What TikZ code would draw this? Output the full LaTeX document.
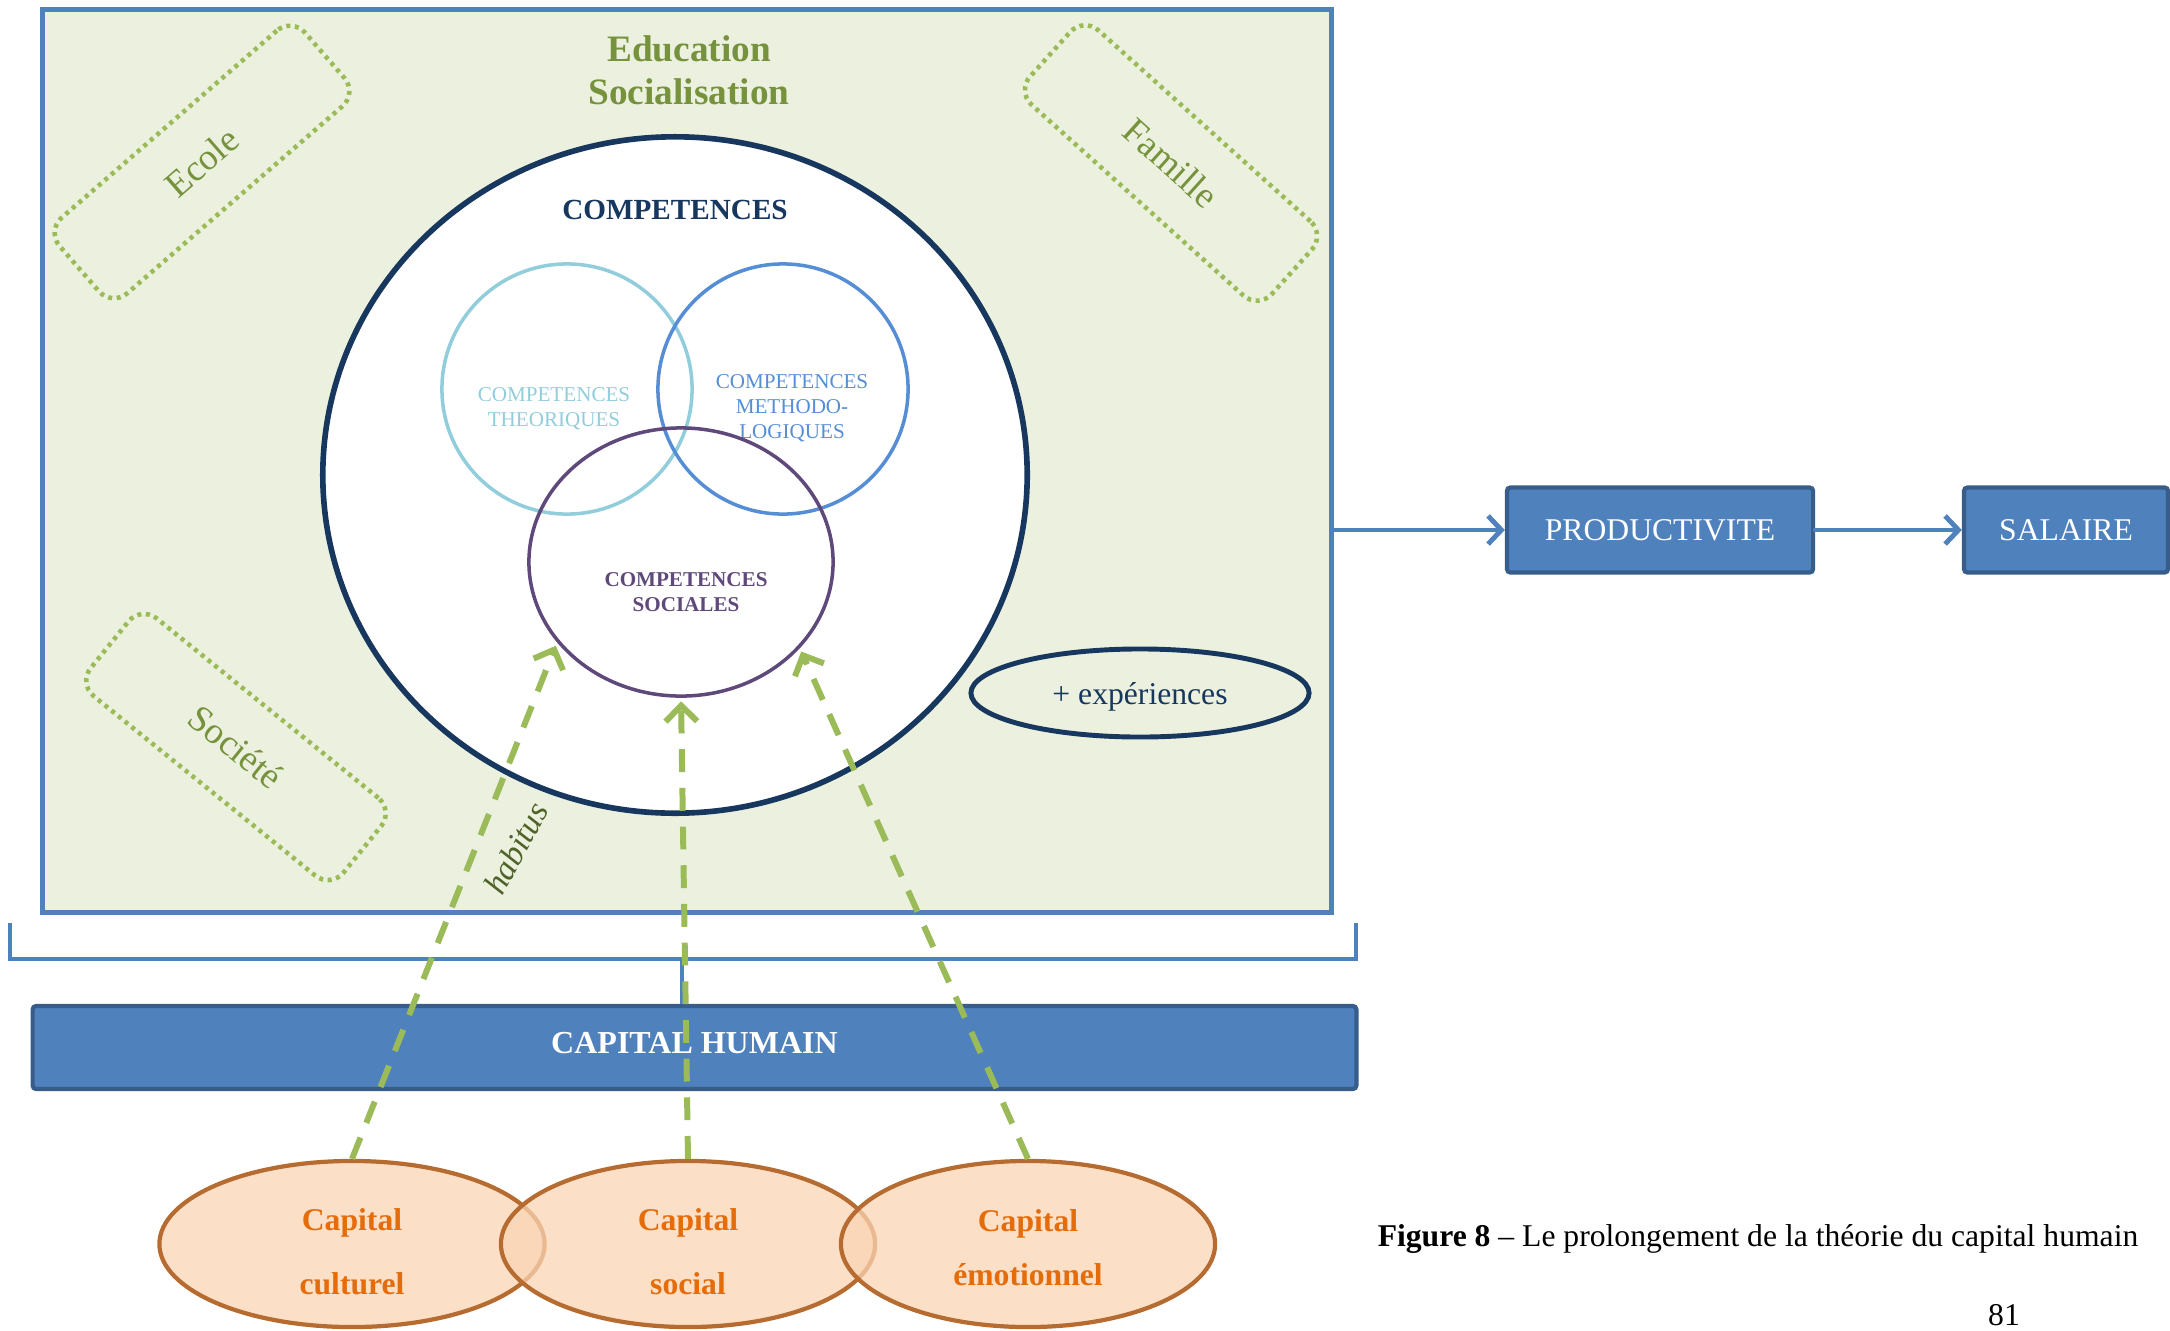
\documentclass[tikz,border=0pt]{standalone}
\usepackage{fontspec}
\setmainfont{Liberation Serif}
\usepackage{xcolor}
\usepackage{tikz}
\definecolor{framegreen}{RGB}{235, 241, 222}
\definecolor{accentblue}{RGB}{79, 129, 189}
\definecolor{darkblue}{RGB}{56, 93, 138}
\definecolor{navy}{RGB}{23, 55, 94}
\definecolor{olivetext}{RGB}{118, 146, 60}
\definecolor{habitusgreen}{RGB}{79, 98, 40}
\definecolor{softgreen}{RGB}{155, 187, 89}
\definecolor{theocyan}{RGB}{146, 205, 220}
\definecolor{methoblue}{RGB}{85, 142, 213}
\definecolor{socialpurple}{RGB}{95, 73, 122}
\definecolor{capfill}{RGB}{251, 212, 180}
\definecolor{capborder}{RGB}{182, 108, 48}
\definecolor{captext}{RGB}{228, 108, 10}
\usetikzlibrary{shapes, arrows.meta, positioning, calc}

\begin{document}
\begin{tikzpicture}[
    x=0.01cm, y=-0.01cm,
    dotbox/.style={rectangle, draw=softgreen, line width=1.3pt, dash pattern=on 1.15pt off 1.3pt, rounded corners=0.2cm, minimum width=3.25cm, minimum height=1cm, text=olivetext, font=\fontsize{10.5}{12}\selectfont},
    venn/.style={circle, line width=1pt, minimum size=2.5cm, inner sep=0pt},
    venntext/.style={align=center, font=\fontsize{6}{7.1}\selectfont},
    bluebox/.style={rectangle, draw=darkblue, fill=accentblue, line width=1.2pt, rounded corners=1pt, minimum height=0.85cm, text=white, font=\fontsize{9}{11}\selectfont},
    capital/.style={ellipse, draw=capborder, fill=capfill, fill opacity=0.75, line width=1.2pt, minimum width=3.74cm, minimum height=1.66cm, inner sep=0pt},
    capitaltext/.style={align=center, text=captext, font=\fontsize{9}{18}\selectfont\bfseries},
    arrow/.style={-{Straight Barb[length=3.8pt,width=8pt]}, line width=1.4pt, line cap=round, accentblue},
    feed/.style={-{Straight Barb[length=4.5pt,width=9pt]}, line width=1.7pt, softgreen, dash pattern=on 6.5pt off 4.5pt, shorten >=1pt}
]
    \useasboundingbox (0,0) rectangle (2170,1330);

    % Education frame
    \node[rectangle, draw=accentblue, fill=framegreen, line width=1.4pt, minimum width=12.88cm, minimum height=9.02cm] (frame) at (687,461) {};
    \node[text=olivetext, align=center, font=\fontsize{10.6}{12.2}\selectfont\bfseries] (educ) at (689,70) {Education\\Socialisation};

    % Places of socialisation
    \node[dotbox, rotate=41] (ecole) at (202,162) {Ecole};
    \node[dotbox, rotate=-42] (famille) at (1171,163) {Famille};
    \node[dotbox, rotate=-39] (societe) at (236,747) {Société};

    % Competences
    \node[ellipse, draw=navy, fill=white, line width=1.6pt, minimum width=7.04cm, minimum height=6.76cm, inner sep=0pt] (comp) at (675,475) {};
    \node[text=navy, font=\fontsize{8.3}{10}\selectfont\bfseries] (comptitle) at (675,210) {COMPETENCES};

    \node[venn, draw=theocyan] (theo) at (567,389) {};
    \node[venntext, text=theocyan] (theotext) at (554,409) {COMPETENCES\\THEORIQUES};

    \node[venn, draw=methoblue] (metho) at (783,389) {};
    \node[venntext, text=methoblue] (methotext) at (792,408) {COMPETENCES\\METHODO-\\LOGIQUES};

    \node[ellipse, draw=socialpurple, line width=1pt, minimum width=3.04cm, minimum height=2.68cm, inner sep=0pt] (sociales) at (681,562) {};
    \node[venntext, text=socialpurple, font=\fontsize{6}{7.1}\selectfont\bfseries] (socialestext) at (686,592) {COMPETENCES\\SOCIALES};

    % Experiences
    \node[ellipse, draw=navy, fill=framegreen, line width=1.4pt, minimum width=3.38cm, minimum height=0.88cm, inner sep=0pt, text depth=0pt, text=navy, font=\fontsize{9}{11}\selectfont] (exp) at (1140,693) {+ expériences};

    \node[rotate=62, text=habitusgreen, font=\fontsize{9.5}{11}\selectfont\itshape] (habitus) at (516,848) {habitus};

    % Bracket
    \draw[accentblue, line width=1.1pt] (10,923) |- (1356,959) -- (1356,923);
    \coordinate (bracemid) at (682,959);

    % Human capital
    \node[bluebox, minimum width=13.23cm, minimum height=0.83cm, text depth=2.5pt, font=\fontsize{9.1}{11}\selectfont\bfseries] (capbar) at (694.5,1047.5) {CAPITAL HUMAIN};
    \draw[accentblue, line width=1.1pt] (bracemid) -- (bracemid |- capbar.north);

    % Productivity and wage
    \node[bluebox, minimum width=3.06cm] (prod) at (1660,530) {PRODUCTIVITE};
    \node[bluebox, minimum width=2.04cm] (salaire) at (2066,530) {SALAIRE};

    \draw[arrow] (prod.west -| frame.east) -- (prod.west);
    \draw[arrow] (prod.east) -- (salaire.west);

    % Capitals
    \node[capital, minimum width=3.85cm] (culturel) at (352,1244) {};
    \node[capital] (social) at (688,1244) {};
    \node[capital] (emotion) at (1028,1244) {};
    \node[capitaltext] (culturelText) at ([yshift=-2.2pt]culturel.center) {Capital\\culturel};
    \node[capitaltext] (socialText) at ([yshift=-2.2pt]social.center) {Capital\\social};
    \node[capitaltext, font=\fontsize{9}{15.5}\selectfont\bfseries] (emotionText) at ([yshift=-1pt]emotion.center) {Capital\\émotionnel};

    \draw[feed] (culturel.north) -- (sociales.213);
    \draw[feed] (social.north) -- (sociales.south);
    \draw[feed] (emotion.north) -- (sociales.324);

    % Caption
    \node[font=\fontsize{9}{11}\selectfont] (caption) at (1758,1239) {\textbf{Figure 8} – Le prolongement de la théorie du capital humain};
    \node[font=\fontsize{9}{11}\selectfont] (pagenum) at (2004,1315) {81};

\end{tikzpicture}
\end{document}
